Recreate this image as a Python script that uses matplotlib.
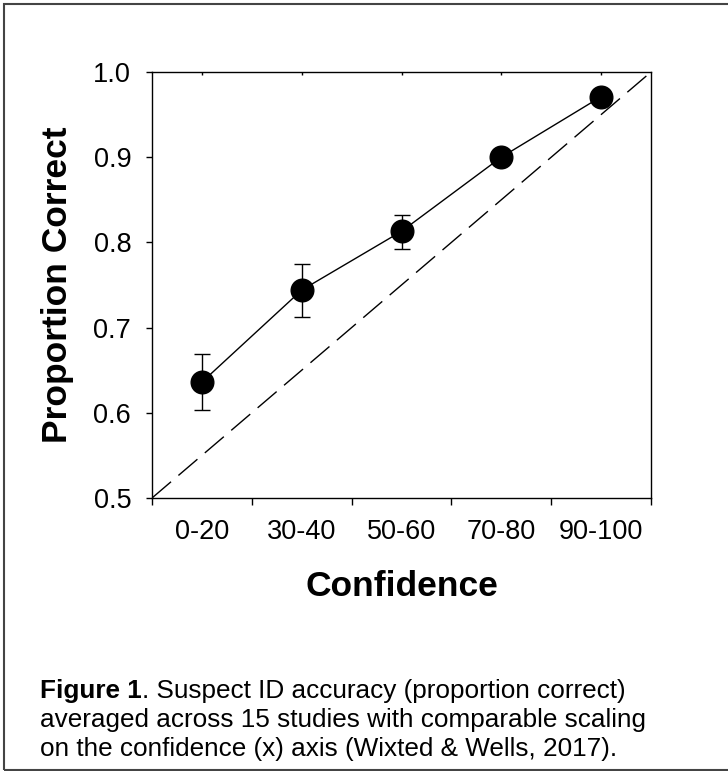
import matplotlib.pyplot as plt
from matplotlib.patches import Rectangle

# Datos
categories = ['0-20', '30-40', '50-60', '70-80', '90-100']
prop_correct = [0.636, 0.744, 0.813, 0.900, 0.971]
err_upper = [0.669, 0.775, 0.832, 0.906, 0.976]
err_lower = [0.603, 0.713, 0.792, 0.894, 0.966]
y_ticks = [0.5, 0.6, 0.7, 0.8, 0.9, 1.0]

caption_bold = 'Figure 1'
caption_lines = ['. Suspect ID accuracy (proportion correct)',
                 'averaged across 15 studies with comparable scaling',
                 'on the confidence (x) axis (Wixted & Wells, 2017).']

plt.rcParams['font.family'] = ['Liberation Sans', 'DejaVu Sans']

W, H = 728, 771
fig = plt.figure(figsize=(W / 100, H / 100), dpi=100)
ax = fig.add_axes([152 / W, 1 - 498 / H, 499 / W, 426 / H])

x_pos = [i + 0.5 for i in range(len(categories))]
yerr = [[p - lo for p, lo in zip(prop_correct, err_lower)],
        [hi - p for p, hi in zip(prop_correct, err_upper)]]

# Linea diagonal de calibracion perfecta
ax.plot([0, 1], [0, 1], transform=ax.transAxes, color='black', lw=1,
        dashes=(18, 7), zorder=1)

ax.errorbar(x_pos, prop_correct, yerr=yerr, fmt='o-', color='black',
            ms=16.3, lw=1, elinewidth=1, capsize=6, capthick=1, zorder=3)

ax.set_xlim(0, len(categories))
ax.set_ylim(y_ticks[0], y_ticks[-1])
ax.set_yticks(y_ticks)
ax.set_yticklabels([f'{v:.1f}' for v in y_ticks])

ax.set_xticks(range(len(categories) + 1))
ax.set_xticklabels([])
ax.set_xticks(x_pos, minor=True)
ax.set_xticklabels(categories, minor=True)

ax.tick_params(axis='x', which='major', direction='out', length=5, width=1,
               top=False, bottom=True)
ax.tick_params(axis='x', which='minor', direction='in', length=2.5, width=1,
               top=True, bottom=False, labelbottom=True, labelsize=19.5, pad=15)
ax.tick_params(axis='y', which='major', direction='out', length=4, width=1,
               right=False, labelsize=19.5, pad=11)

for s in ax.spines.values():
    s.set_linewidth(1)

ax.set_ylabel('Proportion Correct', fontsize=25.5, fontweight='bold')
ax.yaxis.set_label_coords(-0.19, 0.5)
ax.yaxis.label.set_va('center')
ax.set_xlabel('Confidence', fontsize=25.5, fontweight='bold')
ax.xaxis.set_label_coords(0.5, (498 - 586) / 426)
ax.xaxis.label.set_va('center')

# Pie de figura
x0 = 40 / W
baselines = [698, 727, 756]
cap_fs = 18.8
t_bold = fig.text(x0, 1 - baselines[0] / H, caption_bold, fontsize=cap_fs,
                  fontweight='bold', va='baseline', ha='left')
renderer = fig.canvas.get_renderer()
bb = t_bold.get_window_extent(renderer)
fig.text(bb.x1 / W, 1 - baselines[0] / H, caption_lines[0], fontsize=cap_fs,
         va='baseline', ha='left')
for line, b in zip(caption_lines[1:], baselines[1:]):
    fig.text(x0, 1 - b / H, line, fontsize=cap_fs, va='baseline', ha='left')

# Marco
fig.patches.append(Rectangle((3.5 / W, 1.5 / H), 1.0, (H - 5) / H,
                             transform=fig.transFigure, fill=False,
                             edgecolor='#444444', lw=1.5))

fig.savefig('out.png', dpi=100)
